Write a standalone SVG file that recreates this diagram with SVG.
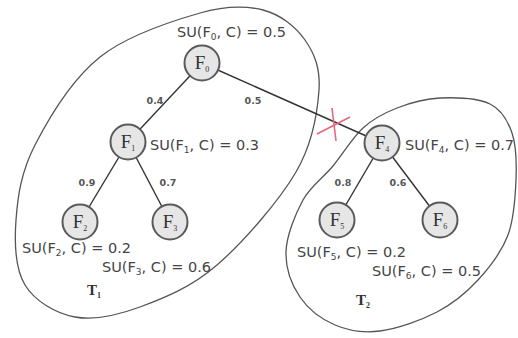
<svg xmlns="http://www.w3.org/2000/svg" width="518" height="338" viewBox="0 0 518 338">
<style>
.cluster{fill:none;stroke:#555;stroke-width:1.3}
.edge{stroke:#333;stroke-width:1.4;fill:none}
.node circle{fill:#e6e6e6;stroke:#5a5a5a;stroke-width:2}
.nl{font-family:"Liberation Serif","Times New Roman",serif;font-size:19px;fill:#333;text-anchor:middle}
.sub{font-size:8px}
.su{font-family:"DejaVu Sans","Verdana",sans-serif;font-size:14.5px;fill:#444}
.ssub{font-size:9px}
.el{font-family:"DejaVu Sans","Verdana",sans-serif;font-size:9.5px;font-weight:bold;fill:#555;text-anchor:middle}
.tl{font-family:"Liberation Serif","Times New Roman",serif;font-size:15px;font-weight:bold;fill:#333}
.cut{stroke:#e8667a;stroke-width:1.6}
</style>
<rect width="518" height="338" fill="#fff"/>
<g id="cluster-T1">
<path class="cluster" d="M200,13 C227.2,5.2 245.5,5.5 263,10 C280.5,14.5 295.7,26.7 305,40 C314.3,53.3 320.5,68 319,90 C317.5,112 313,142.8 296,172 C279,201.2 243,242.5 217,265 C191,287.5 163.7,298.3 140,307 C116.3,315.7 94.2,320.7 75,317 C55.8,313.3 34.8,301.2 25,285 C15.2,268.8 14.3,243.3 16,220 C17.7,196.7 21,172.2 35,145 C49,117.8 72.5,79 100,57 C127.5,35 172.8,20.8 200,13 Z"/>
<text class="tl" x="87" y="295">T<tspan class="sub" dy="3">1</tspan></text>
</g>
<g id="cluster-T2">
<path class="cluster" d="M440,98 C455.5,97.3 478,98.2 490,104 C502,109.8 507.7,120.3 512,133 C516.3,145.7 516.7,163 516,180 C515.3,197 514.3,218.3 508,235 C501.7,251.7 489.8,267.2 478,280 C466.2,292.8 453.3,303.5 437,312 C420.7,320.5 397,328.8 380,331 C363,333.2 348.3,330.7 335,325 C321.7,319.3 308.2,309.2 300,297 C291.8,284.8 285.5,268.2 286,252 C286.5,235.8 295.2,214.3 303,200 C310.8,185.7 323,178 333,166 C343,154 352.3,137.7 363,128 C373.7,118.3 384.2,113 397,108 C409.8,103 424.5,98.7 440,98 Z"/>
<text class="tl" x="356" y="305">T<tspan class="sub" dy="3">2</tspan></text>
</g>
<g id="connectors">
<line class="edge" x1="202" y1="63" x2="128" y2="142"/>
<line class="edge" x1="202" y1="63" x2="382" y2="143"/>
<line class="edge" x1="128" y1="142" x2="80" y2="222"/>
<line class="edge" x1="128" y1="142" x2="170" y2="222"/>
<line class="edge" x1="382" y1="143" x2="337" y2="220"/>
<line class="edge" x1="382" y1="143" x2="440" y2="220"/>
<text class="el" x="155" y="104">0.4</text>
<text class="el" x="253" y="104">0.5</text>
<text class="el" x="87" y="186">0.9</text>
<text class="el" x="168" y="186">0.7</text>
<text class="el" x="343" y="186">0.8</text>
<text class="el" x="398" y="186">0.6</text>
</g>
<g id="cut-mark">
<line class="cut" x1="317" y1="134" x2="350" y2="117"/>
<line class="cut" x1="332" y1="108" x2="336" y2="141"/>
</g>
<g id="F0" class="node">
<circle cx="202" cy="63" r="17.5"/>
<text class="nl" x="202" y="69">F<tspan class="sub" dy="3">0</tspan></text>
<text class="su" x="177" y="37">SU(F<tspan class="ssub" dy="3">0</tspan><tspan dy="-3">, C) = 0.5</tspan></text>
</g>
<g id="F1" class="node">
<circle cx="128" cy="142" r="17.5"/>
<text class="nl" x="128" y="148">F<tspan class="sub" dy="3">1</tspan></text>
<text class="su" x="150" y="150">SU(F<tspan class="ssub" dy="3">1</tspan><tspan dy="-3">, C) = 0.3</tspan></text>
</g>
<g id="F2" class="node">
<circle cx="80" cy="222" r="17.5"/>
<text class="nl" x="80" y="228">F<tspan class="sub" dy="3">2</tspan></text>
<text class="su" x="22" y="253">SU(F<tspan class="ssub" dy="3">2</tspan><tspan dy="-3">, C) = 0.2</tspan></text>
</g>
<g id="F3" class="node">
<circle cx="170" cy="222" r="17.5"/>
<text class="nl" x="170" y="228">F<tspan class="sub" dy="3">3</tspan></text>
<text class="su" x="102" y="272">SU(F<tspan class="ssub" dy="3">3</tspan><tspan dy="-3">, C) = 0.6</tspan></text>
</g>
<g id="F4" class="node">
<circle cx="382" cy="143" r="17.5"/>
<text class="nl" x="382" y="149">F<tspan class="sub" dy="3">4</tspan></text>
<text class="su" x="405" y="150">SU(F<tspan class="ssub" dy="3">4</tspan><tspan dy="-3">, C) = 0.7</tspan></text>
</g>
<g id="F5" class="node">
<circle cx="337" cy="220" r="17.5"/>
<text class="nl" x="337" y="226">F<tspan class="sub" dy="3">5</tspan></text>
<text class="su" x="297" y="257">SU(F<tspan class="ssub" dy="3">5</tspan><tspan dy="-3">, C) = 0.2</tspan></text>
</g>
<g id="F6" class="node">
<circle cx="440" cy="220" r="17.5"/>
<text class="nl" x="440" y="226">F<tspan class="sub" dy="3">6</tspan></text>
<text class="su" x="372" y="276">SU(F<tspan class="ssub" dy="3">6</tspan><tspan dy="-3">, C) = 0.5</tspan></text>
</g>
</svg>
